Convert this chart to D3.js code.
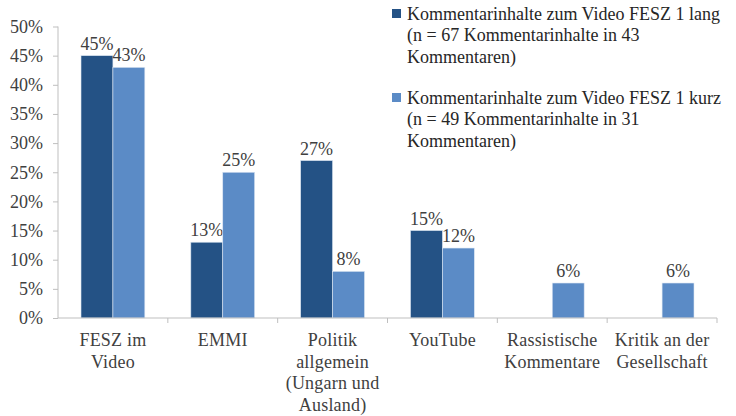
<!DOCTYPE html>
<html>
<head>
<meta charset="utf-8">
<script src="https://cdn.jsdelivr.net/npm/d3@7"></script>
<style>
  body { margin: 0; background: #fff; }
</style>
</head>
<body>
<div id="chart"></div>
<script>
"use strict";

// data
var categories = [
    ["FESZ im", "Video"],
    ["EMMI"],
    ["Politik", "allgemein", "(Ungarn und", "Ausland)"],
    ["YouTube"],
    ["Rassistische", "Kommentare"],
    ["Kritik an der", "Gesellschaft"]
];
var seriesLang = [45, 13, 27, 15, null, null];
var seriesKurz = [43, 25, 8, 12, 6, 6];
var yTicks = [0, 5, 10, 15, 20, 25, 30, 35, 40, 45, 50];
var legendLabels = [
    ["Kommentarinhalte zum Video FESZ 1 lang", "(n = 67 Kommentarinhalte in 43", "Kommentaren)"],
    ["Kommentarinhalte zum Video FESZ 1 kurz", "(n = 49 Kommentarinhalte in 31", "Kommentaren)"]
];
var colors = ["#245285", "#5b8bc6"];

var FONT = "'Liberation Serif'";
var width = 736, height = 416;
var plotLeft = 58, plotRight = 717, plotTop = 26.5, plotBottom = 318;

var svg = d3.select("#chart").append("svg")
    .attr("width", width)
    .attr("height", height);

var x0 = d3.scaleBand()
    .domain(d3.range(categories.length))
    .range([plotLeft, plotRight]);

var x1 = d3.scaleBand()
    .domain([0, 1])
    .range([23, x0.bandwidth() - 23]);

var y = d3.scaleLinear()
    .domain([0, 50])
    .range([plotBottom, plotTop]);

// y axis
var yAxis = svg.append("g")
    .attr("transform", "translate(" + plotLeft + ",0)")
    .call(d3.axisLeft(y).tickValues(yTicks).tickSize(5).tickPadding(10)
        .tickFormat(function(d){ return d + "%"; }));
yAxis.attr("font-family", null).attr("font-size", null);
yAxis.selectAll("path, line").attr("stroke", "#bfbfbf");
yAxis.select("path").attr("d", "M0," + plotTop + "V" + plotBottom);
yAxis.selectAll("text")
    .style("font-family", FONT)
    .style("font-size", "18px")
    .style("fill", "#404040");

// bars
var groups = svg.selectAll("g.cat").data(categories).enter()
    .append("g")
        .attr("class", "cat")
        .attr("transform", function(d, i){ return "translate(" + x0(i) + ",0)"; });

[seriesLang, seriesKurz].forEach(function(series, s){
    var withValue = groups.filter(function(d, i){ return series[i] != null; });
    withValue.append("rect")
        .attr("x", x1(s))
        .attr("y", function(d){ return y(series[categories.indexOf(d)]); })
        .attr("width", x1.bandwidth())
        .attr("height", function(d){ return plotBottom - y(series[categories.indexOf(d)]); })
        .attr("fill", colors[s])
        .attr("stroke", "#dce6f2")
        .attr("stroke-width", 0.6);
    withValue.append("text")
        .attr("x", x1(s) + x1.bandwidth() / 2)
        .attr("y", function(d){ return y(series[categories.indexOf(d)]) - 6; })
        .attr("text-anchor", "middle")
        .style("font-family", FONT)
        .style("font-size", "18px")
        .style("fill", "#404040")
        .text(function(d){ return series[categories.indexOf(d)] + "%"; });
});

// x axis
svg.append("line")
    .attr("x1", plotLeft).attr("x2", plotRight)
    .attr("y1", plotBottom).attr("y2", plotBottom)
    .attr("stroke", "#bfbfbf");
svg.selectAll("line.xtick").data(d3.range(categories.length)).enter()
    .append("line")
        .attr("class", "xtick")
        .attr("x1", function(d){ return x0(d) + x0.bandwidth(); })
        .attr("x2", function(d){ return x0(d) + x0.bandwidth(); })
        .attr("y1", plotBottom)
        .attr("y2", plotBottom + 5)
        .attr("stroke", "#bfbfbf");

// category labels
groups.append("text")
    .attr("text-anchor", "middle")
    .style("font-family", FONT)
    .style("font-size", "18px")
    .style("letter-spacing", "0.2px")
    .style("fill", "#404040")
    .selectAll("tspan").data(function(d){ return d; }).enter()
        .append("tspan")
            .attr("x", x0.bandwidth() / 2)
            .attr("y", function(d, i){ return 346 + i * 21.7; })
            .text(function(d){ return d; });

// legend
var legend = svg.selectAll("g.legend").data(legendLabels).enter()
    .append("g")
        .attr("class", "legend")
        .attr("transform", function(d, i){ return "translate(392," + (i * 84) + ")"; });
legend.append("rect")
    .attr("x", 0).attr("y", 9)
    .attr("width", 9).attr("height", 9)
    .attr("fill", function(d, i){ return colors[i]; });
legend.append("text")
    .style("font-family", FONT)
    .style("font-size", "18px")
    .style("fill", "#262626")
    .selectAll("tspan").data(function(d){ return d; }).enter()
        .append("tspan")
            .attr("x", 15)
            .attr("y", function(d, i){ return 20 + i * 21.3; })
            .text(function(d){ return d; });
</script>
</body>
</html>
